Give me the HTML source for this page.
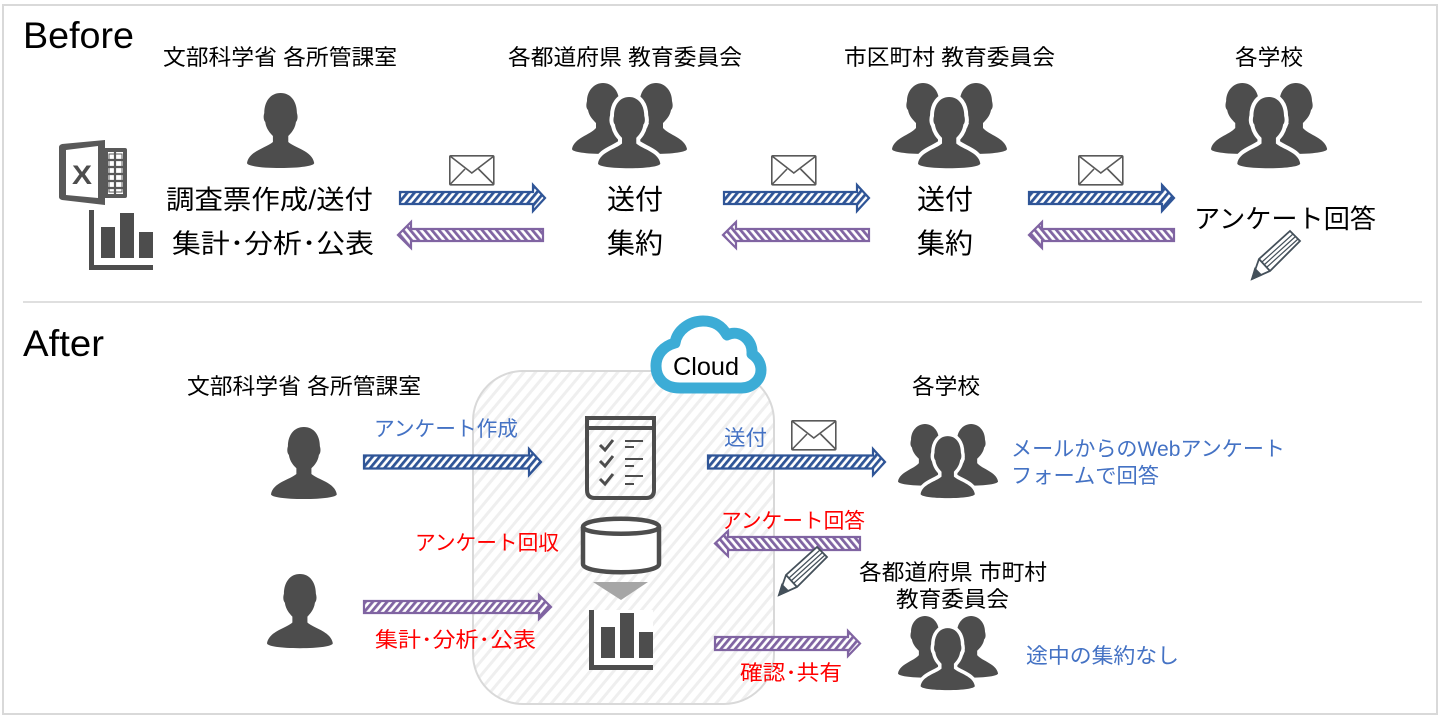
<!DOCTYPE html>
<html><head><meta charset="utf-8"><style>
html,body{margin:0;padding:0;background:#fff;width:1440px;height:716px;overflow:hidden}
svg{display:block}
text{font-family:"Liberation Sans","Noto Sans CJK JP",sans-serif;fill:#000}
.b{fill:#4472c4}.r{fill:#f00}
</style></head><body>
<svg xmlns="http://www.w3.org/2000/svg" width="1440" height="716" viewBox="0 0 1440 716">
<defs>
<pattern id="hb" width="5.500" height="5.500" patternUnits="userSpaceOnUse" patternTransform="rotate(40)"><rect width="5.500" height="5.500" fill="#fff"/><rect width="2.8" height="5.500" fill="#2f5597"/></pattern>
<pattern id="pu" width="5.500" height="5.500" patternUnits="userSpaceOnUse" patternTransform="rotate(40)"><rect width="5.500" height="5.500" fill="#fff"/><rect width="2.8" height="5.500" fill="#8064a2"/></pattern>
<pattern id="pd" width="5.500" height="5.500" patternUnits="userSpaceOnUse" patternTransform="rotate(-40)"><rect width="5.500" height="5.500" fill="#fff"/><rect width="2.8" height="5.500" fill="#8064a2"/></pattern>
<pattern id="gr" width="9" height="9" patternUnits="userSpaceOnUse" patternTransform="rotate(40)"><rect width="9" height="9" fill="#fff"/><rect width="3" height="9" fill="#efefef"/></pattern>
<path id="p" d="M35 0C24 0 18 9 18 20C17 23 17 27 19 29C20 36 24 40 27 43L27 49C20 55 2 58 0 70C0 73 15 75 35 75C55 75 70 73 70 70C68 58 50 55 43 49L43 43C46 40 50 36 51 29C53 27 53 23 52 20C52 9 46 0 35 0Z"/>
<path id="sp" d="M31 0C22 0 15 8 15 18C14 22 14 25 16 27C17 33 21 37 24 40L24 45C18 52 2 55 0 66C0 69 14 71 34 71C50 71 68 69 68 66C66 55 48 52 40 45L38 40C42 37 46 33 46 27C48 25 48 22 47 18C47 8 40 0 31 0Z"/>
<g id="grp">
<use href="#sp" fill="#4d4d4d"/>
<use href="#sp" transform="translate(115 0) scale(-1 1)" fill="#4d4d4d"/>
<use href="#p" transform="translate(26 14) scale(.89 .95)" fill="#4d4d4d" stroke="#fff" stroke-width="9" paint-order="stroke"/>
</g>
<g id="env" fill="#fff" stroke="#595959" stroke-width="1.6"><rect x="0.8" y="0.8" width="44" height="29" rx="1"/><path d="M1 1L22.8 18L45 1M1 29.5L16 14M45 29.5L29.5 14" fill="none"/></g>
<g id="pen" fill="#fff" stroke="#44505a" stroke-width="1.8"><path d="M0 48L7 28L38 0L48 10L18 40Z"/><path d="M7 28L18 40"/><path d="M10 31L41 3M12.500 33.500L43.500 5.500M15 36L46 8" stroke-width="1.2"/><path d="M0 48L3 38L9 44Z" fill="#44505a"/></g>
<g id="chart"><rect x="0" y="0" width="64" height="60" fill="#fff"/><path d="M0 0H5V55H64V60H0Z" fill="#4d4d4d"/><path d="M12 17H26V48H12ZM31 3H45V48H31ZM50 22H64V48H50Z" fill="#4d4d4d"/></g>
</defs>

<rect x="3" y="5" width="1434" height="709" fill="#fff" stroke="#d9d9d9" stroke-width="2"/>
<line x1="23" y1="302" x2="1422" y2="302" stroke="#bfbfbf" stroke-width="1"/>

<!-- cloud panel -->
<rect x="473" y="371" width="301" height="333" rx="50" fill="url(#gr)" stroke="#d9d9d9" stroke-width="2"/>
<path d="M680 388C664 388 656 378 656 366C656 354 664 346 675 343C677 330 690 321 703 321C715 321 722 326 727 335C739 329 753 339 752 354C758 358 761 364 761 370C761 380 752 388 741 388Z" fill="#fff" stroke="#3cacd6" stroke-width="11" stroke-linejoin="round"/>
<text x="673" y="375" font-size="25" textLength="66" lengthAdjust="spacingAndGlyphs">Cloud</text>

<!-- Before titles -->
<text x="23" y="48" font-size="37" textLength="111" lengthAdjust="spacingAndGlyphs">Before</text>
<text x="23" y="356" font-size="37" textLength="81" lengthAdjust="spacingAndGlyphs">After</text>
<text x="163" y="65" font-size="22" textLength="234" lengthAdjust="spacingAndGlyphs">文部科学省 各所管課室</text>
<text x="508" y="65" font-size="22" textLength="234" lengthAdjust="spacingAndGlyphs">各都道府県 教育委員会</text>
<text x="844" y="65" font-size="22" textLength="211" lengthAdjust="spacingAndGlyphs">市区町村 教育委員会</text>
<text x="1235" y="65" font-size="22" textLength="68" lengthAdjust="spacingAndGlyphs">各学校</text>

<use href="#p" transform="translate(247 93) scale(.96 1)" fill="#4d4d4d"/>
<use href="#grp" x="572" y="83"/>
<use href="#grp" x="892" y="83"/>
<use href="#grp" transform="translate(1211 83) scale(1.01 1)"/>

<!-- excel -->
<path d="M105 140V205L62 200Q59 199 59 197V147Q59 145 62 144Z" fill="#595959"/>
<path d="M66 150L98 146V198L66 195Z" fill="#fff"/>
<path d="M105 148H125Q127 148 127 150V196Q127 198 125 198H105Z" fill="#595959"/>
<path d="M108 152H123V194H108Z" fill="#fff"/>
<path d="M109 154H122V192H109Z" fill="none" stroke="#595959" stroke-width="1"/>
<path d="M104 160H123M104 167H123M104 174H123M104 181H123M104 188H123M115 152V194" stroke="#595959" stroke-width="2.2" fill="none"/>
<text x="72" y="184" font-size="27" font-weight="bold" style="fill:#4d4d4d" textLength="20" lengthAdjust="spacingAndGlyphs">X</text>
<use href="#chart" x="89" y="210"/>

<text x="166" y="209" font-size="26.5" textLength="207" lengthAdjust="spacingAndGlyphs">調査票作成/送付</text>
<text x="172" y="253" font-size="26.5" textLength="202" lengthAdjust="spacingAndGlyphs">集計･分析･公表</text>
<text x="607" y="209" font-size="28" textLength="56">送付</text>
<text x="607" y="253" font-size="28" textLength="56">集約</text>
<text x="917" y="209" font-size="28" textLength="56">送付</text>
<text x="917" y="253" font-size="28" textLength="56">集約</text>
<text x="1194" y="228" font-size="26" textLength="182" lengthAdjust="spacingAndGlyphs">アンケート回答</text>

<use href="#env" x="449" y="155"/>
<use href="#env" x="771" y="155"/>
<use href="#env" x="1078" y="155"/>
<use href="#pen" x="1252" y="231"/>

<!-- arrows -->
<g stroke-width="2.2" stroke="#2f5597" fill="url(#hb)">
<path d="M400 192H533V185L545 198L533 211V204H400Z"/>
<path d="M724 192H857V185L869 198L857 211V204H724Z"/>
<path d="M1029 192H1162V185L1174 198L1162 211V204H1029Z"/>
<path d="M364 455.500H529V449L541 462L529 475V468.500H364Z"/>
<path d="M708 455.500H873V449L885 462L873 475V468.500H708Z"/>
</g>
<g stroke-width="2.2" stroke="#8064a2" fill="url(#pd)">
<path d="M543 229H411V222L398 235L411 248V241H543Z"/>
<path d="M869 229H736V222L723 235L736 248V241H869Z"/>
<path d="M1174 229H1042V222L1029 235L1042 248V241H1174Z"/>
<path d="M860 537H728V531L715 543.500L728 556V550H860Z"/>
</g>
<g stroke-width="2.2" stroke="#8064a2" fill="url(#pu)">
<path d="M364 601H539V595L551 607L539 619V613H364Z"/>
<path d="M715 637H848V631L860 643.500L848 656V650H715Z"/>
</g>

<!-- After -->
<text x="187" y="394" font-size="22" textLength="234" lengthAdjust="spacingAndGlyphs">文部科学省 各所管課室</text>
<text x="912" y="394" font-size="22" textLength="68" lengthAdjust="spacingAndGlyphs">各学校</text>
<use href="#p" transform="translate(271 427) scale(.94 .96)" fill="#4d4d4d"/>
<use href="#p" transform="translate(267 574) scale(.94 .99)" fill="#4d4d4d"/>
<use href="#grp" transform="translate(898 424) scale(.87)"/>
<use href="#grp" transform="translate(898 616) scale(.87)"/>

<text class="b" x="374" y="436" font-size="21" textLength="144" lengthAdjust="spacingAndGlyphs">アンケート作成</text>
<text class="b" x="724" y="445" font-size="21" textLength="43" lengthAdjust="spacingAndGlyphs">送付</text>
<use href="#env" x="791" y="420"/>
<text class="b" x="1011" y="456" font-size="21" textLength="274" lengthAdjust="spacingAndGlyphs">メールからのWebアンケート</text>
<text class="b" x="1011" y="483" font-size="21" textLength="148" lengthAdjust="spacingAndGlyphs">フォームで回答</text>
<text class="r" x="721" y="528" font-size="21" textLength="144" lengthAdjust="spacingAndGlyphs">アンケート回答</text>
<text class="r" x="415" y="550" font-size="21" textLength="144" lengthAdjust="spacingAndGlyphs">アンケート回収</text>
<text class="r" x="375" y="647" font-size="21" textLength="161" lengthAdjust="spacingAndGlyphs">集計･分析･公表</text>
<text class="r" x="740" y="680" font-size="21" textLength="102" lengthAdjust="spacingAndGlyphs">確認･共有</text>
<text x="859" y="580" font-size="22" textLength="188" lengthAdjust="spacingAndGlyphs">各都道府県 市町村</text>
<text x="896" y="607" font-size="22" textLength="113" lengthAdjust="spacingAndGlyphs">教育委員会</text>
<text class="b" x="1026" y="663" font-size="21" textLength="153" lengthAdjust="spacingAndGlyphs">途中の集約なし</text>

<!-- form icon -->
<g fill="none" stroke="#4d4d4d" stroke-width="3.5">
<path d="M587 418H654V490Q654 498 646 498H595Q587 498 587 490Z" stroke-width="4"/>
<path d="M587 428H654" stroke-width="4"/>
<path d="M600 445L605 450L613 440M600 461L605 466L613 456M600 479L605 484L613 474" stroke-width="3"/>
<path d="M625 441H643M625 447H634M625 459H643M625 466H634M625 476H643M625 484H634" stroke-width="2"/>
</g>
<!-- database -->
<path d="M583 527C583 516 659 516 659 527V564C659 575 583 575 583 564Z" fill="#fff" stroke="#4d4d4d" stroke-width="4.500"/>
<path d="M583 527C583 536 659 536 659 527" fill="none" stroke="#4d4d4d" stroke-width="4.500"/>
<path d="M593 582H648L621 600Z" fill="#a6a6a6"/>
<use href="#chart" x="589" y="610"/>
<use href="#pen" x="779" y="547"/>
</svg>
</body></html>
